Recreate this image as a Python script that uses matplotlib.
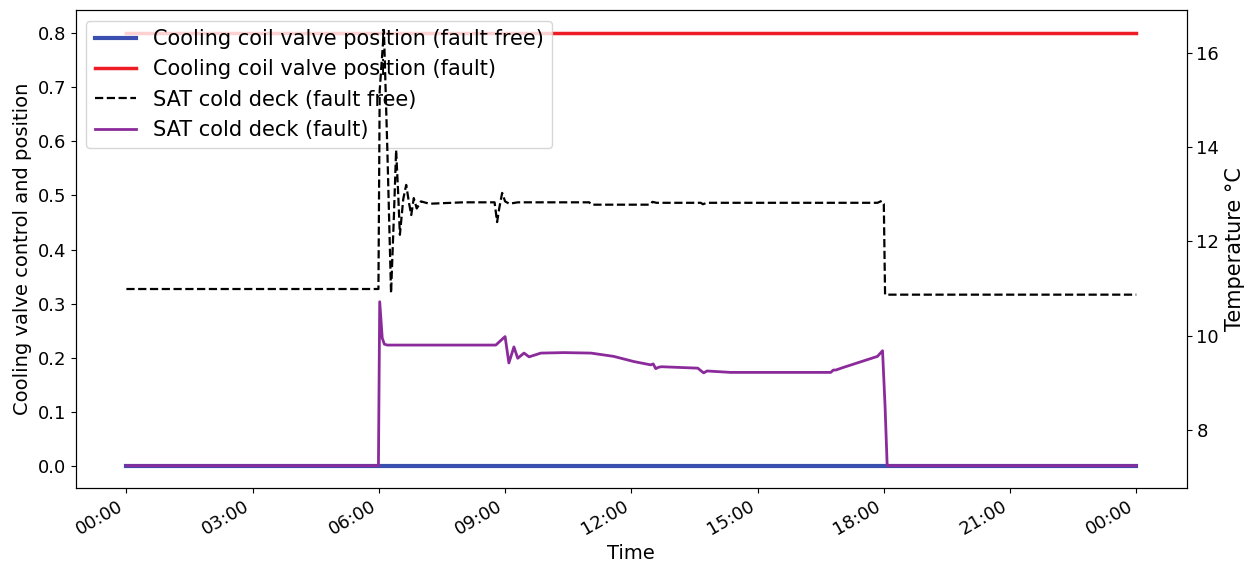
import matplotlib
matplotlib.use("Agg")
import matplotlib.pyplot as plt
import matplotlib.dates as mdates
import pandas as pd

# ---- data (hours since midnight) ----
valve_hours = [0.0, 24.0]
valve_fault_free = [0.0, 0.0]
valve_fault = [0.8, 0.8]

sat_ff_hours = [0.0, 5.99, 6.02, 6.12, 6.2, 6.29, 6.36, 6.41, 6.46, 6.5, 6.58, 6.65, 6.72, 6.77,
                6.83, 6.9, 7.0, 7.2, 8.0, 8.75, 8.81, 8.86, 8.93, 9.0, 9.1, 9.3, 11.0, 11.05,
                12.45, 12.5, 12.6, 13.65, 13.7, 13.8, 17.85, 17.95, 18.0, 18.03, 24.0]
sat_ff = [10.99, 10.99, 15.2, 16.49, 14.0, 10.9, 12.6, 13.94, 13.0, 12.14, 12.9, 13.2, 12.8, 12.56,
          12.92, 12.7, 12.85, 12.80, 12.83, 12.83, 12.41, 12.7, 13.03, 12.85, 12.8, 12.83, 12.83, 12.78,
          12.78, 12.84, 12.82, 12.82, 12.79, 12.82, 12.82, 12.86, 12.8, 10.87, 10.87]

sat_f_hours = [0.0, 5.99, 6.02, 6.08, 6.13, 6.2, 8.78, 8.9, 9.0, 9.09, 9.21, 9.3, 9.45, 9.57,
               9.85, 10.4, 11.04, 11.58, 12.06, 12.46, 12.52, 12.58, 12.65, 12.72, 13.58, 13.66,
               13.72, 13.8, 14.36, 16.74, 16.8, 16.86, 17.02, 17.85, 17.97, 18.03, 18.08, 24.0]
sat_f = [7.24, 7.24, 10.72, 9.95, 9.82, 9.80, 9.80, 9.90, 9.98, 9.42, 9.76, 9.52, 9.63, 9.55,
         9.63, 9.64, 9.63, 9.56, 9.45, 9.38, 9.40, 9.30, 9.33, 9.34, 9.31, 9.25, 9.21, 9.25,
         9.22, 9.22, 9.27, 9.27, 9.32, 9.56, 9.68, 8.5, 7.24, 7.24]

base = pd.Timestamp("2000-01-01")
def to_time(hours):
    return [base + pd.Timedelta(hours=h) for h in hours]

fig = plt.figure(figsize=(12.44, 5.62), dpi=100)
ax = fig.add_axes([0.061, 0.132, 0.893, 0.850])
ax2 = ax.twinx()

l1, = ax.plot(to_time(valve_hours), valve_fault_free, color="#3a4fb0", lw=3,
              label="Cooling coil valve position (fault free)")
l2, = ax.plot(to_time(valve_hours), valve_fault, color="#ee1c24", lw=2.5,
              label="Cooling coil valve position (fault)")
l3, = ax2.plot(to_time(sat_ff_hours), sat_ff, color="black", lw=1.6, ls="--",
               label="SAT cold deck (fault free)")
l4, = ax2.plot(to_time(sat_f_hours), sat_f, color="#8b2a9a", lw=2,
               label="SAT cold deck (fault)")

ax.set_ylim(-0.04, 0.842)
ax2.set_ylim(6.77, 16.91)
ax.set_xlim(base - pd.Timedelta(hours=1.2), base + pd.Timedelta(hours=25.2))

ax.xaxis.set_major_locator(mdates.HourLocator(byhour=range(0, 24, 3)))
ax.xaxis.set_major_formatter(mdates.DateFormatter("%H:%M"))
for lab in ax.get_xticklabels():
    lab.set_rotation(30)
    lab.set_ha("right")

ax.set_yticks([0.0, 0.1, 0.2, 0.3, 0.4, 0.5, 0.6, 0.7, 0.8])
ax2.set_yticks([8, 10, 12, 14, 16])
ax.tick_params(labelsize=13)
ax2.tick_params(labelsize=13)

ax.set_xlabel("Time", fontsize=14)
ax.set_ylabel("Cooling valve control and position", fontsize=14)
ax2.set_ylabel("Temperature °C", fontsize=15)

ax.legend(handles=[l1, l2, l3, l4], loc="upper left", fontsize=15)

fig.savefig("out.png", dpi=100)
